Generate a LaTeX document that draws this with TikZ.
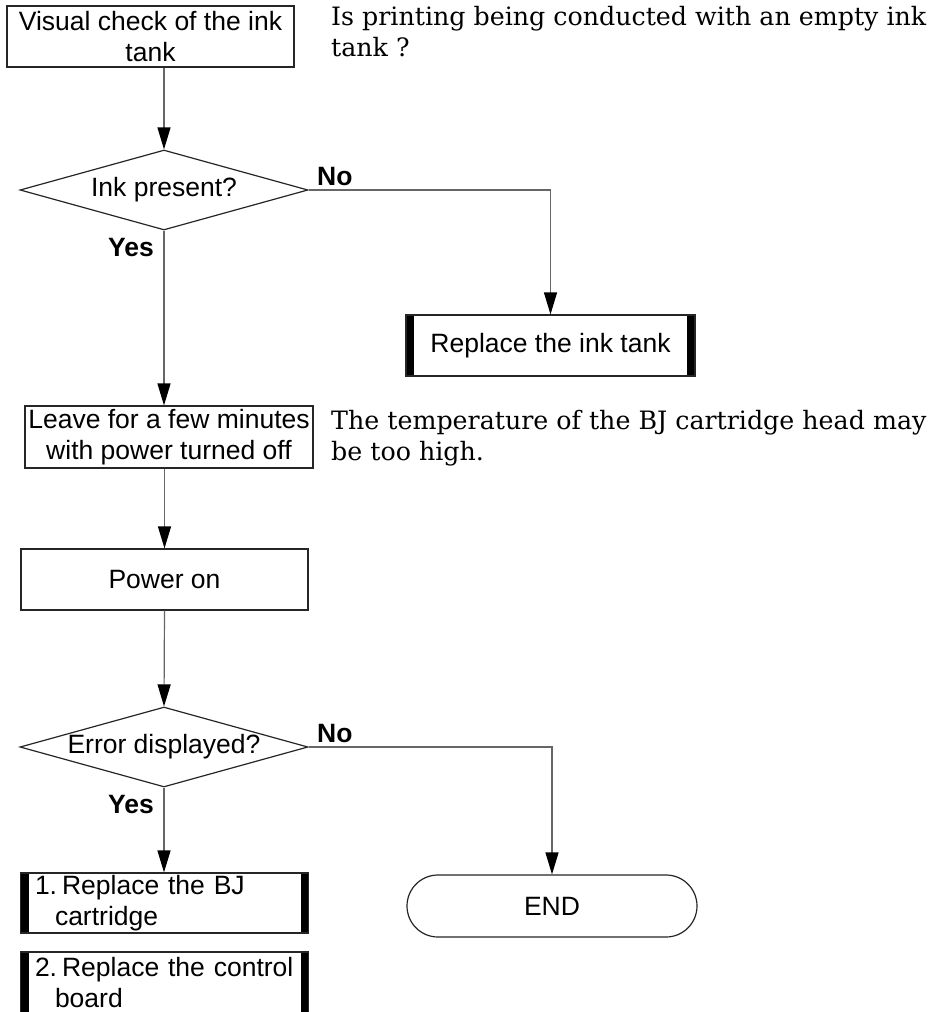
\documentclass[tikz,border=0pt]{standalone}
\usepackage{fontspec}
\setmainfont{DejaVu Serif}
\setsansfont{Liberation Sans}
\usetikzlibrary{shapes.geometric, arrows.meta, positioning}
\definecolor{linegray}{gray}{0.4}
\definecolor{boxline}{gray}{0.15}
\tikzset{
    process/.style = {rectangle, minimum width=288pt, minimum height=62pt, inner sep=0pt, align=center, draw=boxline, line width=1.2pt, font=\sffamily\fontsize{26.5}{31}\selectfont},
    action/.style = {process, path picture={
        \fill[black] (path picture bounding box.north west) rectangle ([xshift=8pt]path picture bounding box.south west);
        \fill[black] (path picture bounding box.north east) rectangle ([xshift=-8pt]path picture bounding box.south east);}},
    listaction/.style = {action, align=left, inner xsep=13pt, text width=259pt},
    decision/.style = {diamond, aspect=3.6, minimum width=288pt, minimum height=80pt, inner sep=0pt, draw=boxline, line width=1.2pt, font=\sffamily\fontsize{26.5}{31}\selectfont},
    startstop/.style = {rectangle, rounded corners=31pt, minimum width=290pt, minimum height=62pt, inner sep=0pt, draw=boxline, line width=1.2pt, font=\sffamily\fontsize{26.5}{31}\selectfont},
    arrow/.style = {draw=linegray, line width=1.2pt, -{Triangle[length=22pt, width=13pt, color=black]}},
    answer/.style = {font=\sffamily\bfseries\fontsize{26.5}{31}\selectfont, inner sep=0pt, anchor=base west},
    note/.style = {font=\rmfamily\fontsize{25.3}{31}\selectfont, align=left, anchor=north west, inner sep=0pt}
}

\begin{document}
\begin{tikzpicture}[x=1pt, y=-1pt]
    \useasboundingbox[fill=white] (0,0) rectangle (936,1012);

    % Steps
    \node[process, minimum width=287pt, minimum height=61pt] (visualcheck) at (150.5,36.5) {Visual check of the ink\\tank};
    \node[decision] (inkpresent) at (164,190) {Ink present?};
    \node[action, minimum width=289pt, minimum height=61pt] (replacetank) at (550.5,345.5) {Replace the ink tank};
    \node[process] (leave) at (169,437) {Leave for a few minutes\\with power turned off};
    \node[process, minimum width=287pt, minimum height=61pt] (poweron) at (164.5,579.5) {Power on};
    \node[decision] (errordisp) at (164,747) {Error displayed?};
    \node[listaction, minimum height=60pt] (replbj) at (164.5,903) {1.\hspace{5pt}Replace the BJ\\\hspace*{20pt}cartridge};
    \node[listaction, minimum height=62pt] (replboard) at (164.5,983) {2.\hspace{5pt}Replace the control\\\hspace*{20pt}board};
    \node[startstop] (endnode) at (552,906) {END};

    % Notes
    \node[note] (note1) at (331,6) {Is printing being conducted with an empty ink\\tank ?};
    \node[note] (note2) at (331,410) {The temperature of the BJ cartridge head may\\be too high.};

    % Flow
    \draw[arrow] (visualcheck.south -| inkpresent.north) -- (inkpresent.north);
    \draw[arrow] (inkpresent.east) -| (replacetank.north);
    \draw[arrow] (inkpresent.south) -- (inkpresent.south |- leave.north);
    \draw[arrow] (leave.south -| poweron.north) -- (poweron.north);
    \draw[arrow] (poweron.south) -- (errordisp.north);
    \draw[arrow] (errordisp.east) -| (endnode.north);
    \draw[arrow] (errordisp.south) -- (errordisp.south |- replbj.north);

    % Labels
    \node[answer] (no1) at (317,185) {No};
    \node[answer] (yes1) at (108,256) {Yes};
    \node[answer] (no2) at (317,742) {No};
    \node[answer] (yes2) at (108,813) {Yes};
\end{tikzpicture}
\end{document}
